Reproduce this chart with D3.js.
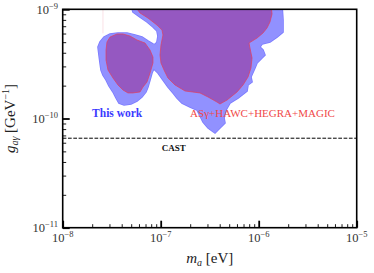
<!DOCTYPE html>
<html><head><meta charset="utf-8">
<script src="https://cdn.jsdelivr.net/npm/d3@7"></script>
<style>body{margin:0;background:#fff}svg{display:block}</style>
</head><body>
<svg id="c" width="374" height="273"></svg>
<script>
// ---- data ----
const xDomain = [1e-8, 1e-5];           // m_a [eV]
const yDomain = [1e-11, 1e-9];          // g_{aγ} [GeV^-1]
const xMajorExps = [-8, -7, -6, -5];
const yMajorExps = [-11, -10, -9];
const castLimit = 6.6e-11;
// contours, pairs of [log10 m_a, log10 g]
const thisWorkMain = [
  [-7.303,-8.961],[-7.283,-9.025],[-7.211,-9.071],[-7.140,-9.116],[-7.079,-9.162],[-7.038,-9.199],
  [-7.028,-9.245],[-7.038,-9.299],[-7.068,-9.336],[-7.089,-9.418],[-7.089,-9.483],[-7.079,-9.538],
  [-7.028,-9.583],[-6.977,-9.647],[-6.926,-9.712],[-6.874,-9.766],[-6.834,-9.812],[-6.783,-9.858],
  [-6.701,-9.895],[-6.630,-9.922],[-6.599,-9.977],[-6.568,-10.032],[-6.517,-10.087],[-6.446,-10.133],
  [-6.395,-10.087],[-6.344,-10.041],[-6.354,-9.995],[-6.334,-9.922],[-6.293,-9.858],[-6.211,-9.812],
  [-6.119,-9.748],[-6.109,-9.693],[-6.068,-9.666],[-6.079,-9.620],[-6.038,-9.538],[-6.017,-9.492],
  [-5.966,-9.446],[-5.936,-9.418],[-5.956,-9.373],[-5.987,-9.345],[-5.966,-9.318],[-5.885,-9.299],
  [-5.813,-9.254],[-5.752,-9.208],[-5.752,-9.098],[-5.762,-8.961]
];
const thisWorkIsland = [
  [-7.640,-9.345],[-7.619,-9.299],[-7.579,-9.254],[-7.517,-9.226],[-7.436,-9.217],[-7.344,-9.217],
  [-7.262,-9.235],[-7.191,-9.254],[-7.130,-9.290],[-7.079,-9.318],[-7.038,-9.327],[-7.028,-9.373],
  [-7.038,-9.446],[-7.058,-9.519],[-7.089,-9.583],[-7.109,-9.647],[-7.130,-9.712],[-7.150,-9.757],
  [-7.191,-9.803],[-7.242,-9.840],[-7.303,-9.867],[-7.374,-9.876],[-7.426,-9.858],[-7.456,-9.812],
  [-7.487,-9.757],[-7.528,-9.702],[-7.558,-9.647],[-7.589,-9.602],[-7.609,-9.556],[-7.619,-9.492],
  [-7.630,-9.418]
];
const gammaMain = [
  [-7.272,-8.961],[-7.211,-9.034],[-7.130,-9.080],[-7.038,-9.144],[-6.987,-9.190],[-6.977,-9.235],
  [-6.997,-9.327],[-7.007,-9.418],[-6.997,-9.492],[-6.966,-9.556],[-6.926,-9.629],[-6.854,-9.693],
  [-6.752,-9.748],[-6.599,-9.766],[-6.517,-9.803],[-6.426,-9.849],[-6.395,-9.867],[-6.323,-9.831],
  [-6.221,-9.757],[-6.160,-9.693],[-6.109,-9.620],[-6.079,-9.538],[-6.068,-9.446],[-6.089,-9.354],
  [-6.099,-9.309],[-6.017,-9.263],[-5.956,-9.217],[-5.915,-9.171],[-5.885,-9.116],[-5.864,-9.043],
  [-5.874,-8.961]
];
const gammaIsland = [
  [-7.548,-9.299],[-7.517,-9.254],[-7.446,-9.226],[-7.385,-9.226],[-7.313,-9.245],[-7.242,-9.281],
  [-7.160,-9.309],[-7.109,-9.373],[-7.079,-9.437],[-7.079,-9.492],[-7.109,-9.583],[-7.140,-9.666],
  [-7.181,-9.712],[-7.211,-9.757],[-7.283,-9.766],[-7.334,-9.766],[-7.385,-9.739],[-7.436,-9.693],
  [-7.487,-9.629],[-7.538,-9.556],[-7.558,-9.464],[-7.558,-9.373]
];
const gammaFaint = [[-7.589,-8.961],[-7.589,-9.22]];
const labelThisWork = {text:"This work", m:-7.70, g:-9.99};
const labelGamma = {text:"ASγ+HAWC+HEGRA+MAGIC", m:-6.70, g:-9.99};
const labelCast = {text:"CAST", m:-6.99, g:-10.30};

// ---- layout ----
const svg = d3.select("#c");
const L=62.7, R=356.7, T=9.3, B=227.7;
const x = d3.scaleLog().domain(xDomain).range([L,R]);
const y = d3.scaleLog().domain(yDomain).range([B,T]);
const P = d => [x(10**d[0]), y(10**d[1])];
const line = d3.line().x(d=>P(d)[0]).y(d=>P(d)[1]).curve(d3.curveLinearClosed);
const open = d3.line().x(d=>P(d)[0]).y(d=>P(d)[1]);

svg.append("clipPath").attr("id","clip").append("rect")
  .attr("x",L).attr("y",T).attr("width",R-L).attr("height",B-T);
const g = svg.append("g").attr("clip-path","url(#clip)");

const blue = [thisWorkMain, thisWorkIsland];
const red = [gammaMain, gammaIsland];
g.selectAll(".bs").data(blue).join("path").attr("d",line)
  .attr("fill","none").attr("stroke","#7b7bff").attr("stroke-width",1.6);
g.selectAll(".bf").data(blue).join("path").attr("d",line).attr("fill","#9191ff");
g.selectAll(".rf").data(red).join("path").attr("d",line).attr("fill","#9558c1");
g.selectAll(".rs").data(red).join("path").attr("d",line)
  .attr("fill","none").attr("stroke","#e2405e").attr("stroke-width",0.8).attr("stroke-opacity",0.9);
g.append("path").attr("d",open(gammaFaint)).attr("fill","none")
  .attr("stroke","#e2405e").attr("stroke-width",0.8).attr("stroke-opacity",0.2);

// CAST line
g.append("line").attr("x1",L).attr("x2",R).attr("y1",y(castLimit)).attr("y2",y(castLimit))
  .attr("stroke","#000").attr("stroke-width",1).attr("stroke-dasharray","3.7,1.6");

// labels in plot
const serif = "'Liberation Serif','DejaVu Serif',serif";
svg.append("text").attr("x",P([labelThisWork.m,labelThisWork.g])[0]).attr("y",P([labelThisWork.m,labelThisWork.g])[1])
  .attr("font-family",serif).attr("font-weight","bold").attr("font-size",11.5).attr("fill","#3a3aff")
  .text(labelThisWork.text);
svg.append("text").attr("x",P([labelGamma.m,labelGamma.g])[0]).attr("y",P([labelGamma.m,labelGamma.g])[1])
  .attr("font-family",serif).attr("font-size",11).attr("fill","#f04848")
  .text(labelGamma.text);
svg.append("text").attr("x",P([labelCast.m,labelCast.g])[0]).attr("y",P([labelCast.m,labelCast.g])[1])
  .attr("font-family",serif).attr("font-weight","bold").attr("font-size",9).attr("fill","#111")
  .text(labelCast.text);

// ticks
function minors(lo,hi){const a=[];for(let e=lo;e<hi;e++)for(let k=2;k<=9;k++)a.push(k*10**e);return a;}
const xMinor = minors(-8,-5), yMinor = minors(-11,-9);
const xMaj = xMajorExps.map(e=>10**e), yMaj = yMajorExps.map(e=>10**e);
const axG = svg.append("g").attr("stroke","#000");
axG.append("g").attr("transform",`translate(0,${B})`)
  .call(d3.axisBottom(x).tickValues(xMinor).tickSize(-3.5).tickFormat(""))
  .call(s=>{s.select(".domain").remove();s.selectAll("line").attr("stroke-width",0.9);});
axG.append("g").attr("transform",`translate(0,${B})`)
  .call(d3.axisBottom(x).tickValues(xMaj).tickSize(-7).tickFormat(""))
  .call(s=>{s.select(".domain").remove();s.selectAll("line").attr("stroke-width",1.8);});
axG.append("g").attr("transform",`translate(${L},0)`)
  .call(d3.axisLeft(y).tickValues(yMinor).tickSize(-3.5).tickFormat(""))
  .call(s=>{s.select(".domain").remove();s.selectAll("line").attr("stroke-width",0.9);});
axG.append("g").attr("transform",`translate(${L},0)`)
  .call(d3.axisLeft(y).tickValues(yMaj).tickSize(-7).tickFormat(""))
  .call(s=>{s.select(".domain").remove();s.selectAll("line").attr("stroke-width",1.8);});

svg.append("rect").attr("x",L).attr("y",T).attr("width",R-L).attr("height",B-T)
  .attr("fill","none").attr("stroke","#000").attr("stroke-width",1.6);

// tick labels
function pow10(sel,e){
  sel.append("tspan").text("10");
  sel.append("tspan").attr("font-size",8.5).attr("dy",-5).text("−"+Math.abs(e));
}
xMajorExps.forEach(e=>{
  svg.append("text").attr("x",x(10**e)).attr("y",242).attr("text-anchor","middle")
    .attr("font-family",serif).attr("font-size",12.5).attr("fill","#333").call(pow10,e);
});
yMajorExps.forEach(e=>{
  svg.append("text").attr("x",58).attr("y",y(10**e)+4.3).attr("text-anchor","end")
    .attr("font-family",serif).attr("font-size",12.5).attr("fill","#333").call(pow10,e);
});

// axis titles
const xt = svg.append("text").attr("x",(L+R)/2).attr("y",263).attr("text-anchor","middle")
  .attr("font-family",serif).attr("font-size",15).attr("fill","#222");
xt.append("tspan").attr("font-style","italic").text("m");
xt.append("tspan").attr("font-size",10).attr("font-style","italic").attr("dy",3).text("a");
xt.append("tspan").attr("dy",-3).text(" [eV]");

const yt = svg.append("text").attr("transform",`translate(15,${(T+B)/2}) rotate(-90)`)
  .attr("text-anchor","middle").attr("font-family",serif).attr("font-size",15).attr("fill","#222");
yt.append("tspan").attr("font-style","italic").text("g");
yt.append("tspan").attr("font-size",10).attr("font-style","italic").attr("dy",3).text("aγ");
yt.append("tspan").attr("dy",-3).text(" [GeV");
yt.append("tspan").attr("font-size",10).attr("dy",-6).text("−1");
yt.append("tspan").attr("dy",6).text("]");
</script>
</body></html>
